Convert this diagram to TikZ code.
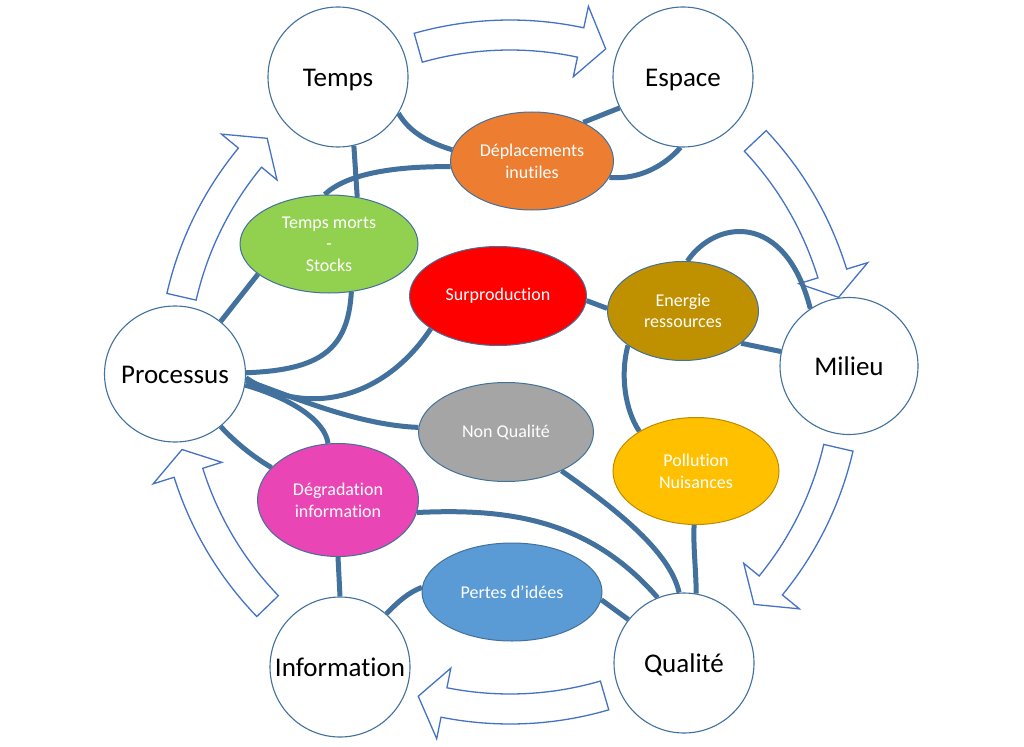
\documentclass[tikz,border=0pt]{standalone}
\usepackage{fontspec}
\setmainfont{Carlito}[Ligatures=NoCommon]
\usetikzlibrary{shapes.geometric}
\definecolor{conn}{RGB}{65,113,156}
\definecolor{outl}{RGB}{65,113,156}
\definecolor{arr}{RGB}{68,114,196}
\definecolor{cOrange}{RGB}{237,125,49}
\definecolor{cGreen}{RGB}{146,208,80}
\definecolor{cRed}{RGB}{255,0,0}
\definecolor{cGold}{RGB}{191,144,0}
\definecolor{cGrey}{RGB}{165,165,165}
\definecolor{cYellow}{RGB}{255,192,0}
\definecolor{polb}{RGB}{188,140,0}
\definecolor{cPink}{RGB}{234,69,180}
\definecolor{cBlue}{RGB}{91,155,213}
\pgfdeclarelayer{back}\pgfdeclarelayer{mid}\pgfsetlayers{back,mid,main}
\newcommand{\cyclearrow}[3]{%
  \draw[harrow] plot[domain=#1:#2, samples=30] (\x:352) -- (#2:374) -- (#3:337) -- (#2:302) -- (#2:322) -- plot[domain=#2:#1, samples=30] (\x:322) -- cycle;}
\newcommand{\bigtext}[1]{\raisebox{-9.5pt}[0pt][0pt]{\makebox[0pt]{#1}}}
\begin{document}
\begin{tikzpicture}[x=1pt,y=-1pt,
  big/.style={ellipse, draw=outl, line width=1.1pt, fill=white, inner sep=0pt,
    minimum width=140pt, minimum height=140pt, font=\fontsize{27}{31}\selectfont, text=black},
  waste/.style={ellipse, draw=outl, line width=1pt, inner sep=0pt, text=white,
    align=center, font=\fontsize{18}{21.7}\selectfont},
  link/.style={draw=conn, line width=5pt},
  harrow/.style={draw=arr, line width=1.3pt, fill=white, line join=miter}]
\useasboundingbox (0,0) rectangle (1024,746);
\begin{pgfonlayer}{back}
\fill[white] (0,0) rectangle (1024,746);
\begin{scope}[shift={(510,372)}]
\cyclearrow{-105.8}{-77.9}{-73.5}
\cyclearrow{-43.3}{-17}{-12.8}
\cyclearrow{13}{39.3}{43.6}
\cyclearrow{73.7}{101.3}{105.8}
\cyclearrow{136}{162.6}{166.7}
\cyclearrow{-167.1}{-140.5}{-136.1}
\end{scope}
\end{pgfonlayer}

% circles
\node[big] (temps) at (338,77) {\bigtext{Temps}};
\node[big] (espace) at (683,77) {\bigtext{Espace}};
\node[big, minimum width=138pt, minimum height=137pt] (milieu) at (849,366) {\bigtext{Milieu}};
\node[big] (qualite) at (684,663) {\bigtext{Qualité}};
\node[big] (information) at (340,667) {\bigtext{Information}};
\node[big, minimum width=141pt, minimum height=136pt] (processus) at (175,374) {\bigtext{Processus}};

% wastes
\node[waste, fill=cOrange, minimum width=163pt, minimum height=98pt] (deplacements) at (532,161) {Déplacements\\inutiles};
\node[waste, fill=cGreen, minimum width=178pt, minimum height=98pt] (tempsmorts) at (329,244) {Temps morts\\-\\Stocks};
\node[waste, fill=cRed, minimum width=177pt, minimum height=99pt] (surproduction) at (498,296) {Surproduction};
\node[waste, fill=cGold, minimum width=151pt, minimum height=99pt] (energie) at (683,311) {Energie\\ressources};
\node[waste, fill=cGrey, minimum width=175pt, minimum height=99pt] (nonqualite) at (506,432) {Non Qualité};
\node[waste, fill=cYellow, draw=polb, minimum width=166pt, minimum height=107pt] (pollution) at (696,471) {Pollution\\Nuisances};
\node[waste, fill=cPink, minimum width=161pt, minimum height=113pt] (degradation) at (338,500) {Dégradation\\information};
\node[waste, fill=cBlue, minimum width=180pt, minimum height=98pt] (pertes) at (512,592) {Pertes d’idées};

\begin{pgfonlayer}{mid}
\draw[link] (temps.-31) .. controls (410,133) and (430,143) .. (deplacements.172);
\draw[link] (deplacements.37) -- (espace.-154);
\draw[link] (espace.-92) .. controls (665,165) and (640,180) .. (deplacements.-12);
\draw[link] (temps.-77) -- (tempsmorts.59);
\draw[link] (deplacements.184) .. controls (390,166) and (345,175) .. (tempsmorts.95);
\draw[link] (processus.49) -- (tempsmorts.-157);
\draw[link] (tempsmorts.-65) .. controls (348,350) and (320,370) .. (processus.1);
\draw[link] (processus.-3) .. controls (300,415) and (380,405) .. (surproduction.-154);
\draw[link] (processus.-5) .. controls (300,400) and (360,425) .. (nonqualite.177);
\draw[link] (processus.-9) .. controls (290,398) and (325,420) .. (degradation.100);
\draw[link] (processus.-49) .. controls (235,442) and (252,456) .. (degradation.154);
\draw[link] (degradation.-90) -- (information.90);
\draw[link] (degradation.-9) .. controls (510,508) and (590,520) .. (qualite.112);
\draw[link] (nonqualite.-35) .. controls (610,505) and (670,550) .. (qualite.94);
\draw[link] (pollution.-92) .. controls (693,545) and (696,570) .. (qualite.80);
\draw[link] (pertes.-5) -- (qualite.142);
\draw[link] (information.49) .. controls (400,600) and (408,593) .. (pertes.177);
\draw[link] (surproduction.-3) -- (energie.178);
\draw[link] (energie.-148) .. controls (620,375) and (625,410) .. (pollution.145);
\draw[link] (energie.85) .. controls (715,220) and (785,210) .. (milieu.124);
\draw[link] (energie.-29) -- (milieu.168);
\end{pgfonlayer}
\end{tikzpicture}
\end{document}
